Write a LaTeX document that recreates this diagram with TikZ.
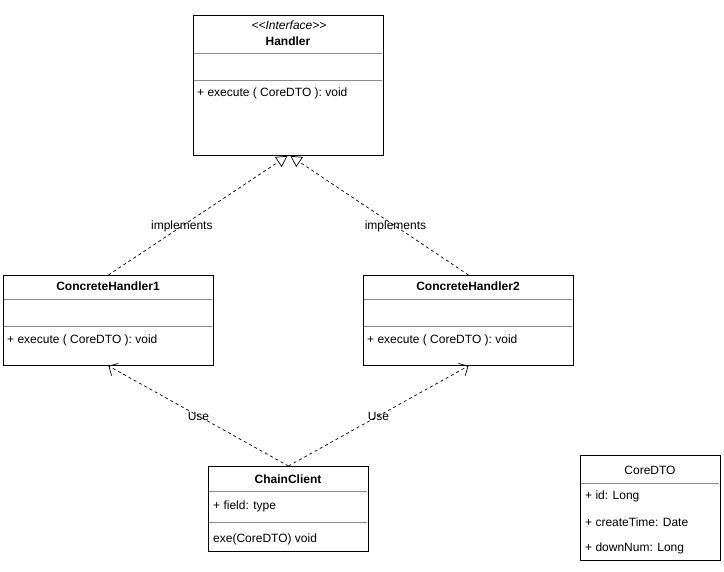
\documentclass[tikz,border=0pt]{standalone}
\usepackage{fontspec}
\setmainfont{Liberation Sans}
\usetikzlibrary{arrows.meta}

\begin{document}
\begin{tikzpicture}[x=1pt, y=-1pt, font=\fontsize{12}{14}\selectfont,
  classbox/.style={draw, line width=0.9pt, anchor=north west, inner sep=0pt},
  sepline/.style={draw=black!45, line width=0.8pt},
  member/.style={anchor=west, inner sep=0pt},
  title/.style={inner sep=0pt, font=\fontsize{12}{14}\selectfont\bfseries},
  realize/.style={dash pattern=on 3pt off 3pt, line width=0.7pt,
    -{Triangle[open, length=11pt, width=12pt]}},
  usage/.style={dash pattern=on 3pt off 3pt, line width=0.7pt,
    -{Straight Barb[length=7pt, width=14pt]}}]
  \useasboundingbox (0,0) rectangle (724,572);
  %%%%%%%%%%%%%
  \node[classbox, minimum width=190pt, minimum height=140pt] (handler) at (193,15) {};
  \node[inner sep=0pt, font=\fontsize{12}{14}\selectfont\itshape] (stereo) at (289,25) {{<}{<}Interface{>}{>}};
  \node[title] (handlername) at (288,41) {Handler};
  \draw[sepline] (194,53) -- (382,53);
  \draw[sepline] (194,80) -- (382,80);
  \node[member] (handlerop) at (197,93) {+ execute ( CoreDTO ): void};
  %%%%%%%%%%%%%
  \node[classbox, minimum width=210pt, minimum height=90pt] (concrete1) at (3,275) {};
  \node[title] (concrete1name) at (108,286) {ConcreteHandler1};
  \draw[sepline] (4,299) -- (212,299);
  \draw[sepline] (4,326) -- (212,326);
  \node[member] (concrete1op) at (7,340) {+ execute ( CoreDTO ): void};
  %%%%%%%%%%%%%
  \node[classbox, minimum width=210pt, minimum height=90pt] (concrete2) at (363,275) {};
  \node[title] (concrete2name) at (468,286) {ConcreteHandler2};
  \draw[sepline] (364,299) -- (572,299);
  \draw[sepline] (364,326) -- (572,326);
  \node[member] (concrete2op) at (367,340) {+ execute ( CoreDTO ): void};
  %%%%%%%%%%%%%
  \node[classbox, minimum width=160pt, minimum height=85pt] (client) at (208,466) {};
  \node[title] (clientname) at (288,479) {ChainClient};
  \draw[sepline] (209,491) -- (367,491);
  \node[member] (clientfield) at (213,506) {+ field: type};
  \draw[sepline] (209,522) -- (367,522);
  \node[member] (clientop) at (213,539) {exe(CoreDTO) void};
  %%%%%%%%%%%%%
  \node[classbox, minimum width=140pt, minimum height=105pt] (dto) at (580,455) {};
  \node[inner sep=0pt] (dtoname) at (650,470) {CoreDTO};
  \draw[sepline] (581,483) -- (719,483);
  \node[member] (dtoid) at (585,496) {+ id: Long};
  \node[member] (dtotime) at (585,522) {+ createTime: Date};
  \node[member] (dtonum) at (585,548) {+ downNum: Long};
  %%%%%%%%%%%%%
  \draw[realize] (concrete1.north) to node[pos=0.41, inner sep=0pt] {implements} ([xshift=-1pt]handler.south);
  \draw[realize] (concrete2.north) to node[pos=0.41, inner sep=0pt] {implements} ([xshift=2pt]handler.south);
  \draw[usage] (client.north) to node[pos=0.5, inner sep=0pt] {Use} (concrete1.south);
  \draw[usage] (client.north) to node[pos=0.5, inner sep=0pt] {Use} (concrete2.south);
\end{tikzpicture}
\end{document}
